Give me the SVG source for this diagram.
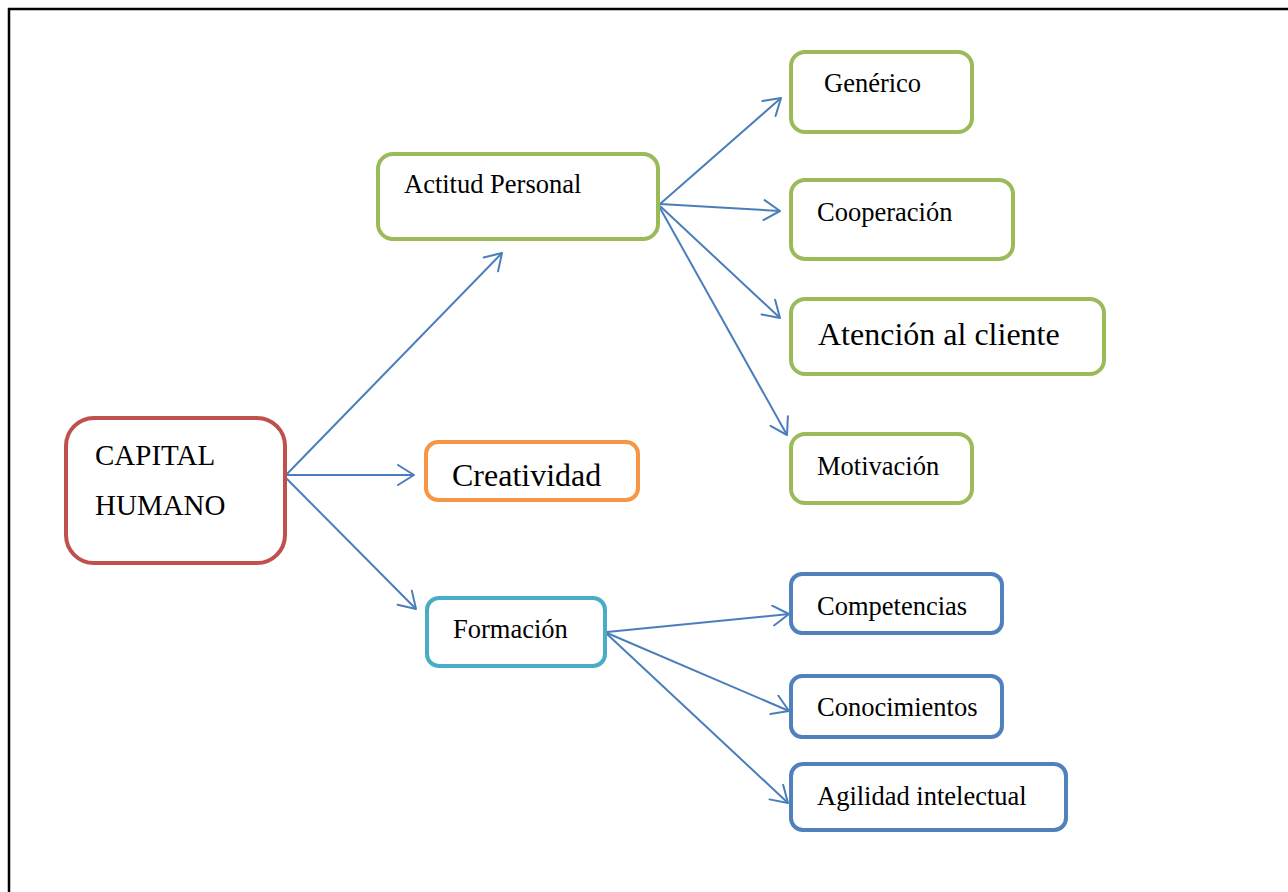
<svg xmlns="http://www.w3.org/2000/svg" width="1288" height="892" viewBox="0 0 1288 892">
  <defs>
    <style>
      .box { fill: #FFFFFF; stroke-width: 4; }
      .red { stroke: #C0504D; }
      .green { stroke: #9BBB59; }
      .orange { stroke: #F79646; }
      .teal { stroke: #4BACC6; }
      .blue { stroke: #4F81BD; }
      .lbl { font-family: "Liberation Serif", "Times New Roman", serif; fill: #000000; font-size: 26.5px; }
      .big { font-size: 32px; }
      .cap { font-size: 29px; }
      .conn { fill: none; stroke: #4A7EBB; stroke-width: 2; marker-end: url(#open); }
    </style>
    <marker id="open" viewBox="0 0 20 22" refX="18" refY="11" markerWidth="20" markerHeight="22" markerUnits="userSpaceOnUse" orient="auto">
      <path d="M2,1 L18,11 L2,21" fill="none" stroke="#4A7EBB" stroke-width="2" stroke-linecap="round" stroke-linejoin="round"/>
    </marker>
  </defs>

  <rect width="1288" height="892" fill="#FFFFFF"/>
  <!-- page frame -->
  <path d="M9,892 V9 H1288" fill="none" stroke="#000000" stroke-width="2.5"/>

  <g id="connectors">
    <line class="conn" x1="286" y1="475" x2="502" y2="253"/>
    <line class="conn" x1="286" y1="475" x2="414" y2="475"/>
    <line class="conn" x1="286" y1="478" x2="416" y2="609"/>
    <line class="conn" x1="660" y1="204" x2="781" y2="98"/>
    <line class="conn" x1="660" y1="204" x2="780" y2="211"/>
    <line class="conn" x1="660" y1="206" x2="780" y2="318"/>
    <line class="conn" x1="660" y1="208" x2="787" y2="435"/>
    <line class="conn" x1="607" y1="632" x2="789" y2="614"/>
    <line class="conn" x1="607" y1="633" x2="789" y2="711"/>
    <line class="conn" x1="607" y1="634" x2="788" y2="803"/>
  </g>

  <g id="capital-humano">
    <rect class="box red" x="66" y="418" width="219" height="145" rx="28"/>
    <text class="lbl cap" x="95" y="465">CAPITAL</text>
    <text class="lbl cap" x="95" y="515">HUMANO</text>
  </g>

  <g id="actitud-personal">
    <rect class="box green" x="378" y="154" width="280" height="85" rx="15"/>
    <text class="lbl" x="404" y="193">Actitud Personal</text>
  </g>

  <g id="creatividad">
    <rect class="box orange" x="426" y="442" width="212" height="58" rx="12"/>
    <text class="lbl big" x="452" y="486">Creatividad</text>
  </g>

  <g id="formacion">
    <rect class="box teal" x="427" y="598" width="178" height="68" rx="12"/>
    <text class="lbl" x="453" y="638">Formación</text>
  </g>

  <g id="generico">
    <rect class="box green" x="791" y="52" width="181" height="80" rx="14"/>
    <text class="lbl" x="824" y="92">Genérico</text>
  </g>

  <g id="cooperacion">
    <rect class="box green" x="791" y="180" width="222" height="79" rx="14"/>
    <text class="lbl" x="817" y="221">Cooperación</text>
  </g>

  <g id="atencion-cliente">
    <rect class="box green" x="791" y="299" width="313" height="75" rx="14"/>
    <text class="lbl big" x="818" y="345">Atención al cliente</text>
  </g>

  <g id="motivacion">
    <rect class="box green" x="791" y="434" width="181" height="69" rx="14"/>
    <text class="lbl" x="817" y="475">Motivación</text>
  </g>

  <g id="competencias">
    <rect class="box blue" x="791" y="574" width="211" height="59" rx="11"/>
    <text class="lbl" x="817" y="615">Competencias</text>
  </g>

  <g id="conocimientos">
    <rect class="box blue" x="791" y="676" width="211" height="61" rx="11"/>
    <text class="lbl" x="817" y="716">Conocimientos</text>
  </g>

  <g id="agilidad-intelectual">
    <rect class="box blue" x="791" y="764" width="275" height="66" rx="12"/>
    <text class="lbl" x="817" y="805">Agilidad intelectual</text>
  </g>
</svg>
